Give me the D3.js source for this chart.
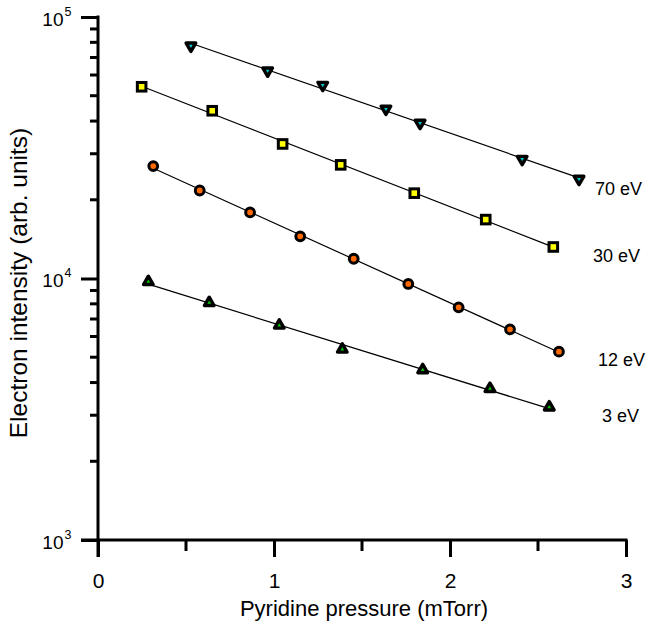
<!DOCTYPE html>
<html>
<head>
<meta charset="utf-8">
<script src="https://cdn.jsdelivr.net/npm/d3@7"></script>
<style>
  body { margin: 0; background: #fff; }
  text { font-family: Arial, "Liberation Sans", sans-serif; fill: #000; }
</style>
</head>
<body>
<div id="chart"></div>
<script>
// pressure (mTorr) and intensity values
var p70 = [0.528, 0.964, 1.277, 1.636, 1.830, 2.410, 2.733];
var i70 = [77600, 62300, 54900, 44500, 39300, 28600, 24000];

var p30 = [0.248, 0.649, 1.049, 1.379, 1.797, 2.203, 2.587];
var i30 = [54100, 43800, 32700, 27200, 21200, 16800, 13200];

var p12 = [0.314, 0.578, 0.864, 1.149, 1.453, 1.763, 2.049, 2.341, 2.619];
var i12 = [26900, 21700, 17900, 14500, 11900, 9530, 7760, 6390, 5250];

var p3 = [0.286, 0.632, 1.030, 1.388, 1.845, 2.227, 2.564];
var i3 = [9720, 8080, 6620, 5360, 4470, 3790, 3220];

var seriesLabels = ["70 eV", "30 eV", "12 eV", "3 eV"];
var xTicks = [0, 1, 2, 3];
var yDecades = [3, 4, 5];

var svgWidth = 653;
var svgHeight = 625;

var svg = d3.select("#chart")
  .append("svg")
  .attr("width", svgWidth)
  .attr("height", svgHeight);

var x = d3.scaleLinear().domain([0, 3]).range([98, 626]);
var y = d3.scaleLog().domain([1000, 100000]).range([540, 17]);

// series setup
var series = [
  { p: p70, v: i70, label: seriesLabels[0], shape: "down", fill: "#00c8d0", lx: 595, ly: 195 },
  { p: p30, v: i30, label: seriesLabels[1], shape: "square", fill: "#ffff00", lx: 593, ly: 262 },
  { p: p12, v: i12, label: seriesLabels[2], shape: "circle", fill: "#ff6a00", lx: 598, ly: 366 },
  { p: p3, v: i3, label: seriesLabels[3], shape: "up", fill: "#00c800", lx: 602, ly: 422 }
];

// exponential fit (straight line in log space)
function fit(ps, vs) {
  var n = ps.length;
  var ls = vs.map(function(v) { return Math.log(v); });
  var mx = d3.mean(ps), my = d3.mean(ls);
  var sxy = 0, sxx = 0;
  for (var i = 0; i < n; i++) {
    sxy += (ps[i] - mx) * (ls[i] - my);
    sxx += (ps[i] - mx) * (ps[i] - mx);
  }
  var b = sxy / sxx, a = my - b * mx;
  return function(p) { return Math.exp(a + b * p); };
}

var line = d3.line().x(function(d) { return x(d[0]); }).y(function(d) { return y(d[1]); });

series.forEach(function(s) {
  var f = fit(s.p, s.v);
  var x0 = d3.min(s.p), x1 = d3.max(s.p);
  svg.append("path")
    .attr("d", line([[x0, f(x0)], [x1, f(x1)]]))
    .attr("fill", "none")
    .attr("stroke", "#000")
    .attr("stroke-width", 1.2);
});

series.forEach(function(s) {
  var pts = s.p.map(function(p, i) { return [p, s.v[i]]; });
  var g = svg.append("g");
  if (s.shape === "circle") {
    g.selectAll("circle").data(pts).enter().append("circle")
      .attr("cx", function(d) { return x(d[0]); })
      .attr("cy", function(d) { return y(d[1]); })
      .attr("r", 4.4)
      .attr("fill", s.fill)
      .attr("stroke", "#000")
      .attr("stroke-width", 3);
  } else if (s.shape === "square") {
    g.selectAll("rect").data(pts).enter().append("rect")
      .attr("x", function(d) { return x(d[0]) - 4.3; })
      .attr("y", function(d) { return y(d[1]) - 4.3; })
      .attr("width", 8.6)
      .attr("height", 8.6)
      .attr("fill", s.fill)
      .attr("stroke", "#000")
      .attr("stroke-width", 3);
  } else {
    var sym = d3.symbol().type(d3.symbolTriangle).size(40);
    var rot = s.shape === "down" ? 180 : 0;
    g.selectAll("path").data(pts).enter().append("path")
      .attr("d", sym)
      .attr("transform", function(d) {
        return "translate(" + x(d[0]) + "," + y(d[1]) + ") rotate(" + rot + ")";
      })
      .attr("fill", s.fill)
      .attr("stroke", "#000")
      .attr("stroke-width", 3.4)
      .attr("stroke-linejoin", "round");
  }
  svg.append("text")
    .attr("x", s.lx)
    .attr("y", s.ly)
    .attr("font-size", 18)
    .text(s.label);
});

// axes
var bottomAxis = d3.axisBottom(x).tickValues(xTicks).tickSize(17).tickFormat(d3.format("d"));
var leftAxis = d3.axisLeft(y).tickValues(yDecades.map(function(e) { return Math.pow(10, e); })).tickSize(17).tickFormat("");

var xg = svg.append("g")
  .attr("transform", "translate(0,540)")
  .call(bottomAxis);
xg.select(".domain").remove();
xg.selectAll(".tick line").attr("stroke-width", 3);
xg.selectAll(".tick text")
  .attr("font-size", 21)
  .attr("font-family", "Arial, 'Liberation Sans', sans-serif")
  .attr("y", 48)
  .attr("dy", 0);
xg.append("line").attr("x1", 81).attr("x2", 627.5).attr("y1", 0).attr("y2", 0)
  .attr("stroke", "#000").attr("stroke-width", 3);

// minor x ticks
xg.selectAll(".minor").data([0.5, 1.5, 2.5]).enter().append("line")
  .attr("x1", function(d) { return x(d); }).attr("x2", function(d) { return x(d); })
  .attr("y1", 0).attr("y2", 11)
  .attr("stroke", "#000").attr("stroke-width", 3);

var yg = svg.append("g")
  .attr("transform", "translate(98,0)")
  .call(leftAxis);
yg.select(".domain").remove();
yg.selectAll(".tick line").attr("stroke-width", 3);
yg.append("line").attr("x1", 0).attr("x2", 0).attr("y1", 15.5).attr("y2", 557)
  .attr("stroke", "#000").attr("stroke-width", 3);

var minors = [];
[3, 4].forEach(function(e) {
  for (var k = 2; k <= 9; k++) minors.push(k * Math.pow(10, e));
});
yg.selectAll(".minor").data(minors).enter().append("line")
  .attr("x1", -8).attr("x2", 0)
  .attr("y1", function(d) { return y(d); }).attr("y2", function(d) { return y(d); })
  .attr("stroke", "#000").attr("stroke-width", 3);

// decade labels 10^n
yDecades.forEach(function(e) {
  svg.append("text")
    .attr("x", 63.5)
    .attr("y", y(Math.pow(10, e)) + 8.5)
    .attr("text-anchor", "end")
    .attr("font-size", 19)
    .text("10");
  svg.append("text")
    .attr("x", 64.5)
    .attr("y", y(Math.pow(10, e)) - 1.5)
    .attr("font-size", 12.5)
    .text(e);
});

// axis titles
svg.append("text")
  .attr("x", 364)
  .attr("y", 616)
  .attr("text-anchor", "middle")
  .attr("font-size", 22)
  .text("Pyridine pressure (mTorr)");

svg.append("text")
  .attr("transform", "translate(27,283) rotate(-90)")
  .attr("text-anchor", "middle")
  .attr("font-size", 24.5)
  .text("Electron intensity (arb. units)");
</script>
</body>
</html>
